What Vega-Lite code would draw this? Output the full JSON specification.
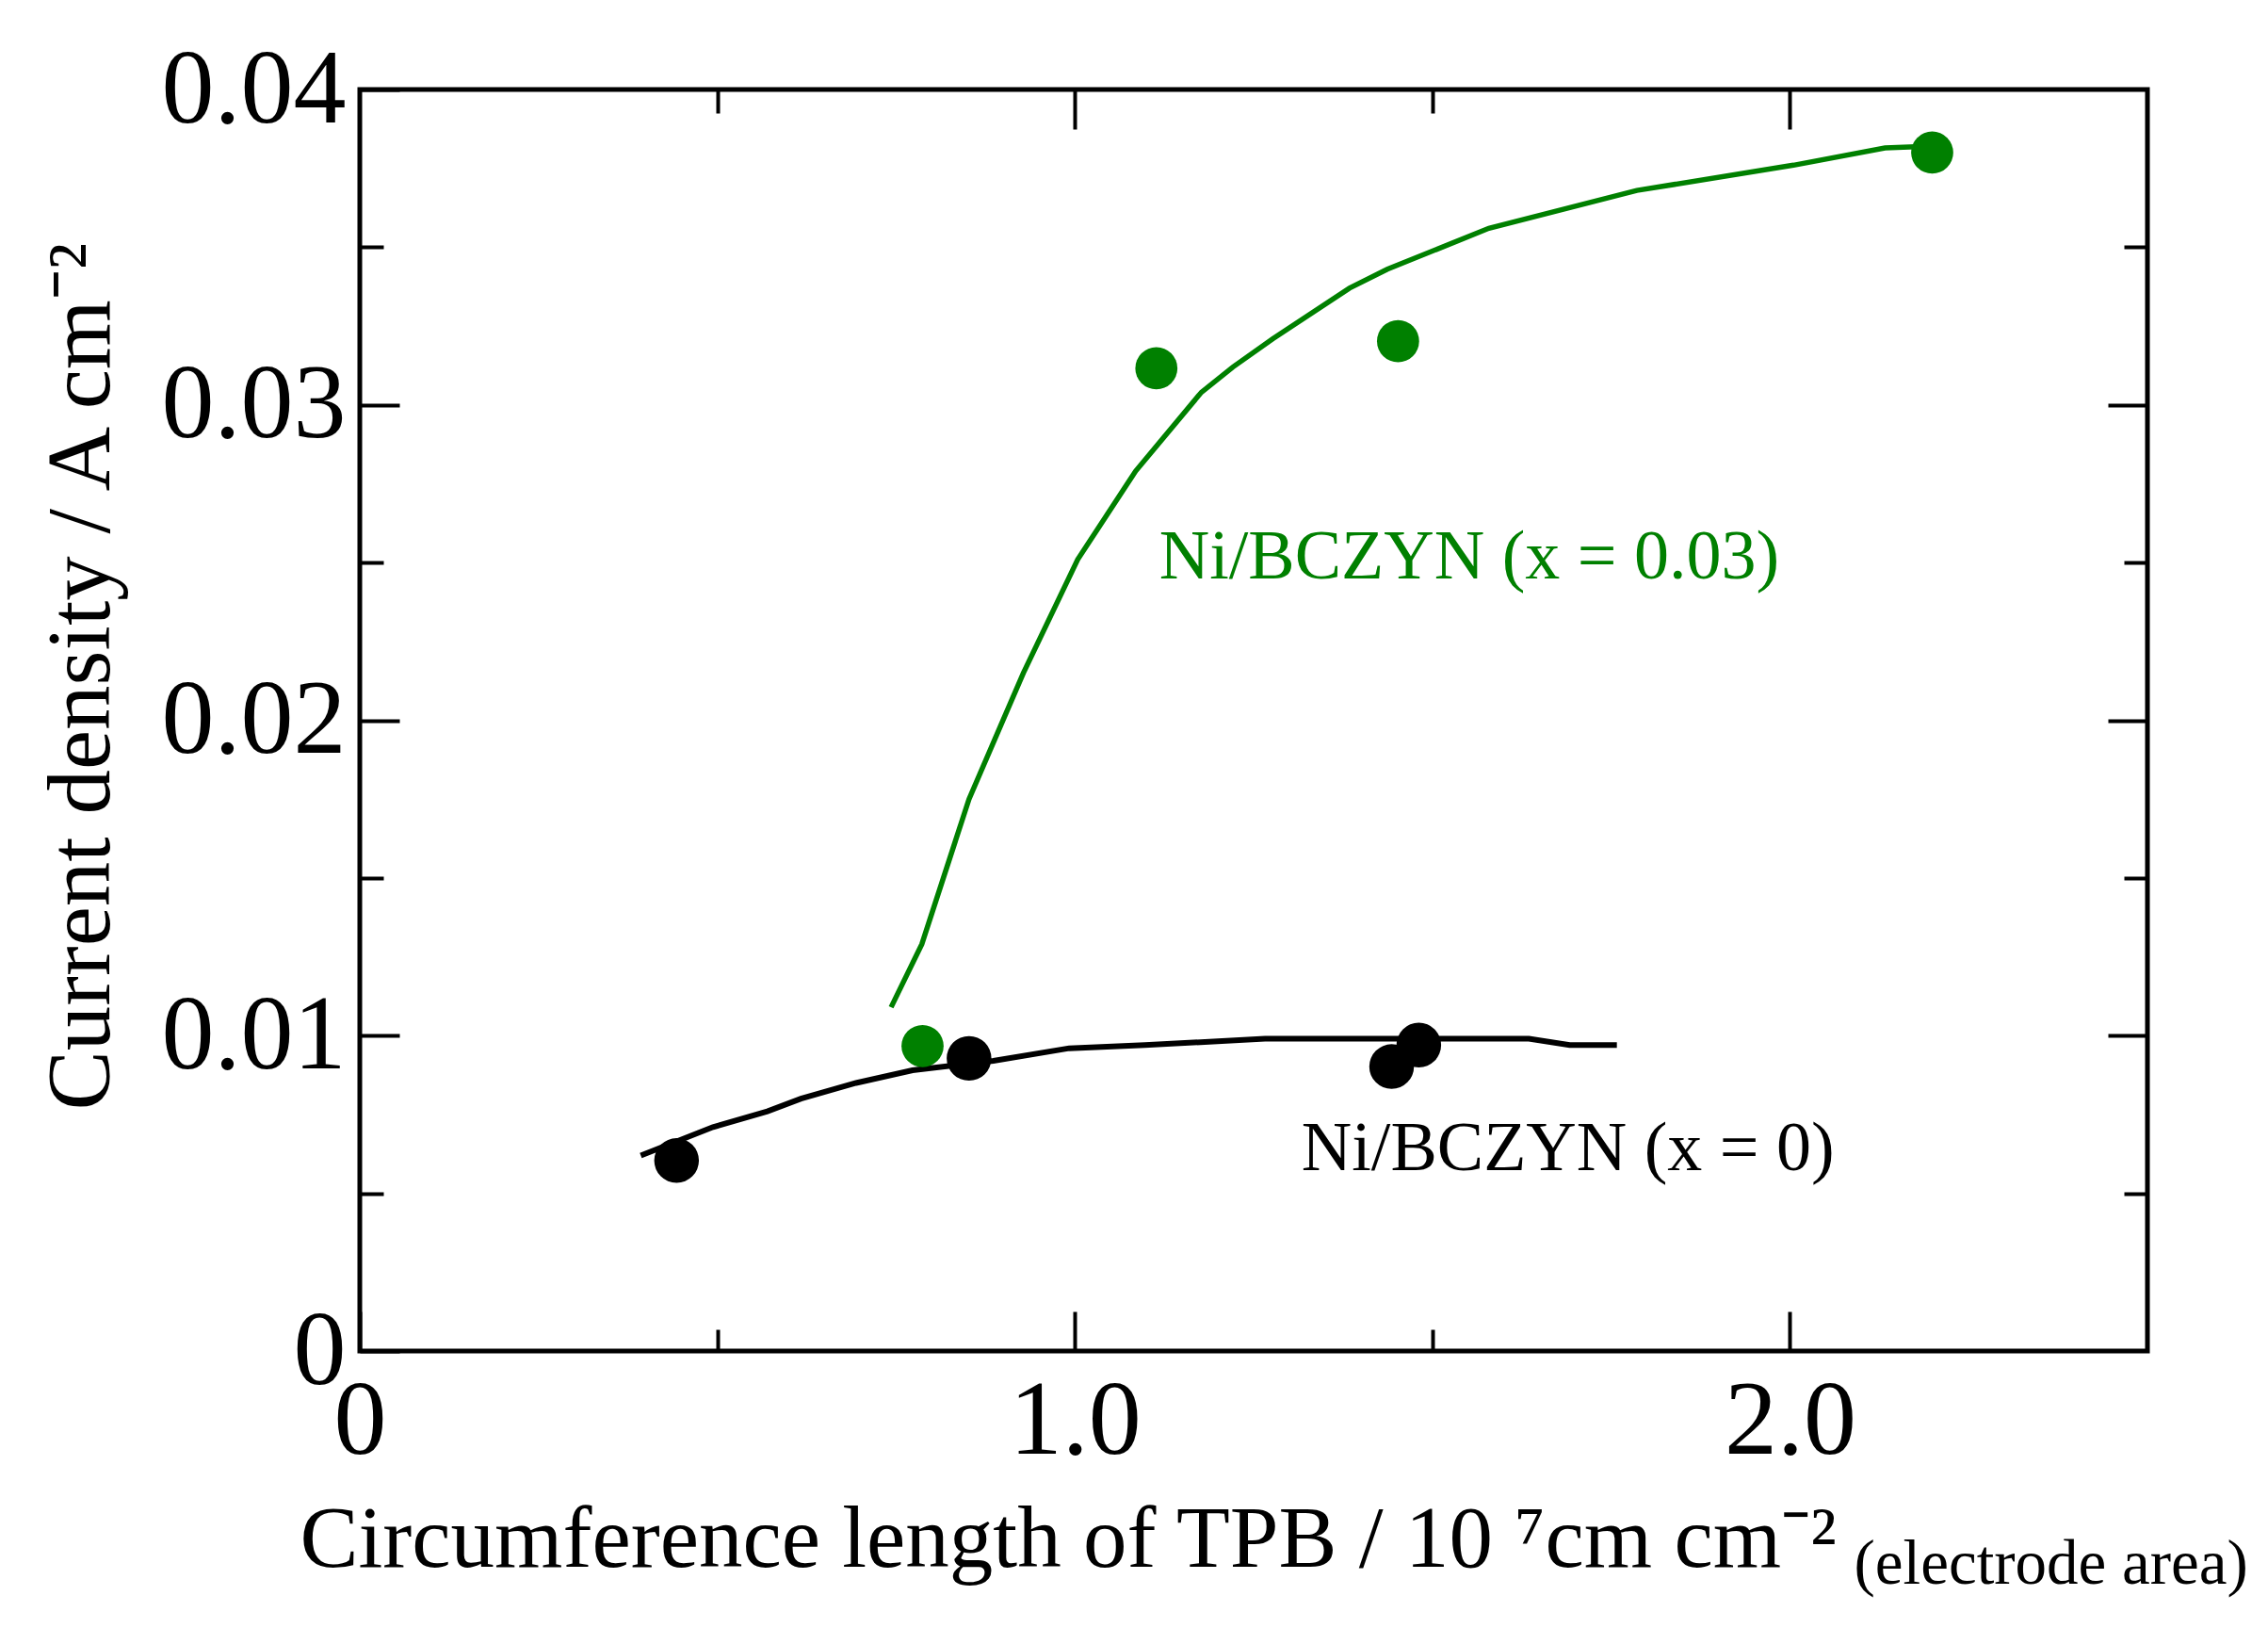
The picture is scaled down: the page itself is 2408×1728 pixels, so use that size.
{
  "$schema": "https://vega.github.io/schema/vega-lite/v6.json",
  "width": 1898,
  "height": 1339,
  "autosize": "none",
  "padding": {"left": 382, "top": 95, "right": 128, "bottom": 294},
  "background": "white",
  "datasets": {
    "curves": [
      {"series": "x = 0.03", "x": 0.743, "y": 0.0109},
      {"series": "x = 0.03", "x": 0.786, "y": 0.0129},
      {"series": "x = 0.03", "x": 0.852, "y": 0.0175},
      {"series": "x = 0.03", "x": 0.928, "y": 0.0215},
      {"series": "x = 0.03", "x": 1.004, "y": 0.0251},
      {"series": "x = 0.03", "x": 1.085, "y": 0.0279},
      {"series": "x = 0.03", "x": 1.177, "y": 0.0304},
      {"series": "x = 0.03", "x": 1.221, "y": 0.0312},
      {"series": "x = 0.03", "x": 1.277, "y": 0.0321},
      {"series": "x = 0.03", "x": 1.384, "y": 0.0337},
      {"series": "x = 0.03", "x": 1.437, "y": 0.0343},
      {"series": "x = 0.03", "x": 1.579, "y": 0.0356},
      {"series": "x = 0.03", "x": 1.786, "y": 0.0368},
      {"series": "x = 0.03", "x": 2.005, "y": 0.0376},
      {"series": "x = 0.03", "x": 2.133, "y": 0.03815},
      {"series": "x = 0.03", "x": 2.199, "y": 0.0382},
      {"series": "x = 0", "x": 0.393, "y": 0.0062},
      {"series": "x = 0", "x": 0.494, "y": 0.0071},
      {"series": "x = 0", "x": 0.570, "y": 0.0076},
      {"series": "x = 0", "x": 0.617, "y": 0.0080},
      {"series": "x = 0", "x": 0.694, "y": 0.0085},
      {"series": "x = 0", "x": 0.773, "y": 0.0089},
      {"series": "x = 0", "x": 0.886, "y": 0.0092},
      {"series": "x = 0", "x": 0.992, "y": 0.0096},
      {"series": "x = 0", "x": 1.098, "y": 0.0097},
      {"series": "x = 0", "x": 1.266, "y": 0.0099},
      {"series": "x = 0", "x": 1.635, "y": 0.0099},
      {"series": "x = 0", "x": 1.692, "y": 0.0097},
      {"series": "x = 0", "x": 1.758, "y": 0.0097}
    ],
    "points": [
      {"series": "x = 0.03", "x": 0.787, "y": 0.00967},
      {"series": "x = 0.03", "x": 1.114, "y": 0.03116},
      {"series": "x = 0.03", "x": 1.452, "y": 0.03202},
      {"series": "x = 0.03", "x": 2.199, "y": 0.0380},
      {"series": "x = 0", "x": 0.443, "y": 0.00604},
      {"series": "x = 0", "x": 0.852, "y": 0.00928},
      {"series": "x = 0", "x": 1.443, "y": 0.00902},
      {"series": "x = 0", "x": 1.481, "y": 0.0097}
    ],
    "labels": [
      {"series": "x = 0.03", "x": 1.118, "y": 0.0245, "label": "Ni/BCZYN (x = 0.03)"},
      {"series": "x = 0", "x": 1.317, "y": 0.00574, "label": "Ni/BCZYN (x = 0)"}
    ]
  },
  "layer": [
    {
      "data": {"name": "curves"},
      "transform": [{"filter": "datum.series == 'x = 0.03'"}],
      "mark": {"type": "line", "color": "#008000", "strokeWidth": 5.5},
      "encoding": {
        "x": {
          "field": "x",
          "type": "quantitative",
          "scale": {"domain": [0, 2.5], "nice": false, "zero": false},
          "axis": {
            "orient": "bottom",
            "values": [0, 1, 2],
            "labelExpr": "datum.value == 0 ? '0' : format(datum.value, '.1f')",
            "tickSize": -42,
            "labelPadding": 62,
            "title": "Circumference length of TPB / 10 ⁷cm cm⁻²",
            "titleFontSize": 93,
            "titleAlign": "left",
            "titleBaseline": "alphabetic",
            "titleX": -64,
            "titleY": 228
          }
        },
        "y": {
          "field": "y",
          "type": "quantitative",
          "scale": {"domain": [0, 0.04], "nice": false, "zero": false},
          "axis": {
            "orient": "left",
            "values": [0, 0.01, 0.02, 0.03, 0.04],
            "labelExpr": "datum.value == 0 ? '0' : format(datum.value, '.2f')",
            "tickSize": -42,
            "labelPadding": 57,
            "title": "Current density / A cm⁻²",
            "titleFontSize": 95,
            "titleAngle": 270,
            "titleAlign": "left",
            "titleBaseline": "alphabetic",
            "titleX": -267,
            "titleY": 1083
          }
        }
      }
    },
    {
      "data": {"name": "curves"},
      "transform": [{"filter": "datum.series == 'x = 0'"}],
      "mark": {"type": "line", "color": "black", "strokeWidth": 6},
      "encoding": {
        "x": {
          "field": "x",
          "type": "quantitative",
          "axis": {
            "orient": "bottom",
            "values": [0.5, 1.5],
            "tickSize": -23,
            "labels": false,
            "title": "(electrode area)",
            "titleFontSize": 67,
            "titleAlign": "left",
            "titleBaseline": "alphabetic",
            "titleX": 1586,
            "titleY": 246
          }
        },
        "y": {
          "field": "y",
          "type": "quantitative",
          "axis": {
            "orient": "left",
            "values": [0.005, 0.015, 0.025, 0.035],
            "tickSize": -25,
            "labels": false,
            "title": null
          }
        }
      }
    },
    {
      "data": {"name": "points"},
      "mark": {"type": "circle", "opacity": 1},
      "encoding": {
        "x": {
          "field": "x",
          "type": "quantitative",
          "axis": {"orient": "top", "values": [1, 2], "tickSize": -42, "labels": false, "title": null}
        },
        "y": {
          "field": "y",
          "type": "quantitative",
          "axis": {"orient": "right", "values": [0.01, 0.02, 0.03], "tickSize": -42, "labels": false, "title": null}
        },
        "color": {
          "field": "series",
          "type": "nominal",
          "scale": {"domain": ["x = 0.03", "x = 0"], "range": ["#008000", "black"]},
          "legend": null
        },
        "size": {
          "condition": {"test": "datum.series == 'x = 0'", "value": 2250},
          "value": 2000
        }
      }
    },
    {
      "data": {"name": "labels"},
      "mark": {"type": "text", "align": "left", "baseline": "alphabetic", "fontSize": 74, "font": "Liberation Serif"},
      "encoding": {
        "x": {
          "field": "x",
          "type": "quantitative",
          "axis": {"orient": "top", "values": [0.5, 1.5], "tickSize": -25, "labels": false, "title": null}
        },
        "y": {
          "field": "y",
          "type": "quantitative",
          "axis": {"orient": "right", "values": [0.005, 0.015, 0.025, 0.035], "tickSize": -25, "labels": false, "title": null}
        },
        "text": {"field": "label", "type": "nominal"},
        "color": {"field": "series", "type": "nominal", "legend": null}
      }
    }
  ],
  "resolve": {"axis": {"x": "independent", "y": "independent"}},
  "config": {
    "view": {"stroke": "black", "strokeWidth": 5},
    "axis": {
      "domain": false,
      "grid": false,
      "tickColor": "black",
      "tickWidth": 4,
      "labelFont": "Liberation Serif",
      "labelFontSize": 112,
      "labelColor": "black",
      "labelLimit": 0,
      "labelFlush": false,
      "labelOverlap": false,
      "labelBound": false,
      "titleFont": "Liberation Serif",
      "titleFontWeight": "normal",
      "titleColor": "black",
      "titleLimit": 0
    }
  }
}
